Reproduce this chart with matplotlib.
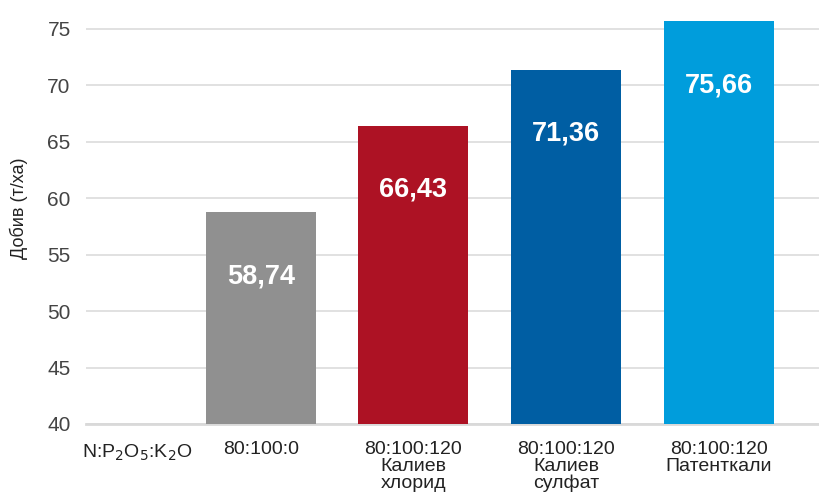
import matplotlib.pyplot as plt
import numpy as np

plt.rcParams['font.family'] = ['Liberation Sans', 'DejaVu Sans']

# данни
first_label = "N:P$_2$O$_5$:K$_2$O"
categories = ["80:100:0", "80:100:120\nКалиев\nхлорид", "80:100:120\nКалиев\nсулфат", "80:100:120\nПатенткали"]
values = [58.74, 66.43, 71.36, 75.66]
value_labels = ["58,74", "66,43", "71,36", "75,66"]
colors = ['#909090', '#ad1224', '#005ea3', '#009ddc']

fig = plt.figure(figsize=(8.19, 4.97), dpi=100)
ax = fig.add_axes([0.105, 0.147, 0.895, 0.8175])

x = np.arange(1, len(categories) + 1)
bars = ax.bar(x, values, 0.72, color=colors, zorder=3)

for b, lab in zip(bars, value_labels):
    ax.annotate(lab, (b.get_x() + b.get_width() / 2, b.get_height()),
                xytext=(0, -46), textcoords='offset points',
                ha='center', va='center', color='white',
                fontsize=19.5, fontweight='bold', zorder=4)

ax.set_ylim(40, 76)
ax.set_xlim(-0.144, 4.656)
ax.set_yticks(np.arange(40, 76, 5))
ax.yaxis.grid(True, color='#dcdcdc', linewidth=1.2, zorder=0)
ax.set_xticks(x)
ax.set_xticklabels(categories, fontsize=14, color='#222222', linespacing=1.0)
ax.tick_params(axis='y', length=0, labelsize=15, colors='#444444', pad=11)
ax.tick_params(axis='x', length=0, pad=12)
for lbl in ax.get_xticklabels():
    lbl.set_color('#222222')

# първият етикет вляво
ax.text(-0.17, -0.045, first_label, transform=ax.get_xaxis_transform(),
        fontsize=14, color='#222222', ha='left', va='top')

for s in ['top', 'right', 'left']:
    ax.spines[s].set_visible(False)
ax.spines['bottom'].set_color('#d9d9d9')
ax.spines['bottom'].set_linewidth(2)

ax.set_ylabel('Добив (т/ха)', fontsize=13, color='#222222')
ax.yaxis.set_label_coords(-0.079, 0.53)

plt.savefig('out.png', dpi=100)
plt.close(fig)
